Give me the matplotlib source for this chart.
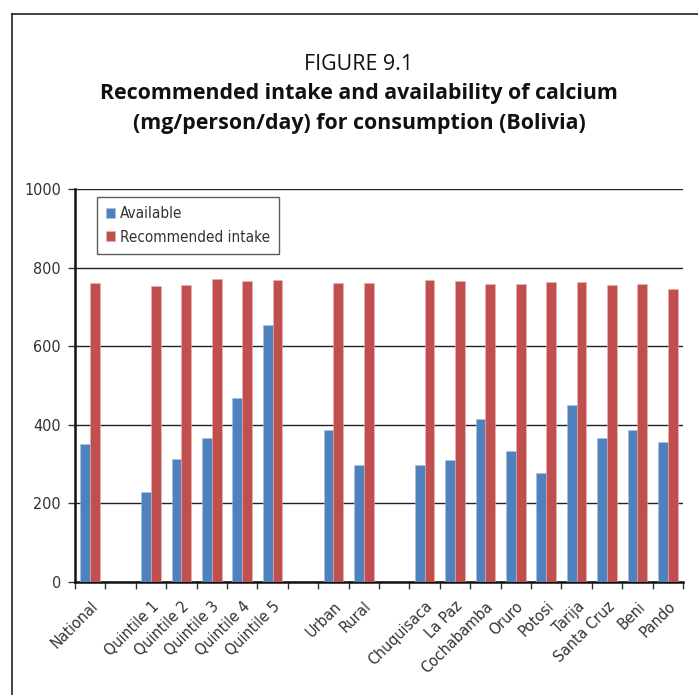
import numpy as np
import matplotlib.pyplot as plt
from matplotlib.lines import Line2D

# slots with '' are empty gaps between the groups
categories = ['National', '', 'Quintile 1', 'Quintile 2', 'Quintile 3', 'Quintile 4',
              'Quintile 5', '', 'Urban', 'Rural', '', 'Chuquisaca', 'La Paz',
              'Cochabamba', 'Oruro', 'Potosi', 'Tarija', 'Santa Cruz', 'Beni', 'Pando']
available = [351, None, 229, 313, 367, 467, 653, None, 386, 297, None,
             297, 310, 415, 334, 278, 450, 367, 386, 356]
recommended = [760, None, 752, 755, 771, 766, 769, None, 760, 760, None,
               769, 766, 758, 758, 763, 763, 755, 758, 745]
yticks = [0, 200, 400, 600, 800, 1000]

blue = '#4F81BD'
red = '#C0504D'
small = dict(family='DejaVu Sans', stretch='condensed', size=11)

fig = plt.figure(figsize=(6.98, 6.95), dpi=100)
ax = fig.add_axes([75 / 698, 113 / 695, 608 / 698, 393 / 695])

x = np.arange(len(categories))
idx = [i for i, v in enumerate(available) if v is not None]
w = 0.32
ax.bar(x[idx] - w / 2, [available[i] for i in idx], w, color=blue,
       edgecolor='#a9c0e0', linewidth=0.4, label='Available', zorder=3)
ax.bar(x[idx] + w / 2, [recommended[i] for i in idx], w, color=red,
       edgecolor='#e6b2b0', linewidth=0.4, label='Recommended intake', zorder=3)

ax.set_xlim(-0.5, len(categories) - 0.5)
ax.set_ylim(0, 1000)
ax.set_yticks(yticks)
ax.set_yticklabels([str(t) for t in yticks], fontstretch='condensed', fontsize=11.5,
                   color='#333333')
ax.yaxis.grid(True, color='#222222', linewidth=1.0, zorder=0)
ax.tick_params(axis='y', length=5, width=1, color='#333333', pad=5)

ax.set_xticks(x)
ax.set_xticklabels(categories, rotation=45, ha='right', va='top', rotation_mode='anchor',
                   fontstretch='condensed', fontsize=11.5, color='#333333')
ax.tick_params(axis='x', which='major', length=0, pad=12)
ax.set_xticks(np.arange(-0.5, len(categories), 1.0), minor=True)
ax.tick_params(axis='x', which='minor', length=5, width=1, color='#333333')

for s in ['top', 'right']:
    ax.spines[s].set_visible(False)
for s in ['left', 'bottom']:
    ax.spines[s].set_linewidth(1.8)
    ax.spines[s].set_color('#111111')

leg = ax.legend(loc='upper left', bbox_to_anchor=(22 / 608, 1 - 8 / 393), frameon=True,
                fancybox=False, prop=small,
                handlelength=0.6, handleheight=0.6, handletextpad=0.3,
                borderpad=0.6, labelspacing=0.55, borderaxespad=0)
leg.get_frame().set_edgecolor('#333333')
leg.get_frame().set_linewidth(1.0)
for t in leg.get_texts():
    t.set_color('#333333')

cx = 359 / 698
fig.text(cx, 1 - 65 / 695, 'FIGURE 9.1', ha='center', va='center',
         fontfamily='Open Sans', fontsize=15.4, color='#111111')
fig.text(cx, 1 - 94 / 695, 'Recommended intake and availability of calcium', ha='center',
         va='center', fontfamily='Open Sans', fontweight='bold', fontsize=15.4, color='#111111')
fig.text(cx, 1 - 123 / 695, '(mg/person/day) for consumption (Bolivia)', ha='center',
         va='center', fontfamily='Open Sans', fontweight='bold', fontsize=15.4, color='#111111')

# frame lines of the page box
fig.add_artist(Line2D([12 / 698, 12 / 698], [0, 1 - 14 / 695], transform=fig.transFigure,
                      color='#222222', linewidth=1.2))
fig.add_artist(Line2D([12 / 698, 1], [1 - 14 / 695, 1 - 14 / 695], transform=fig.transFigure,
                      color='#222222', linewidth=1.2))

fig.savefig('out.png', dpi=100)
